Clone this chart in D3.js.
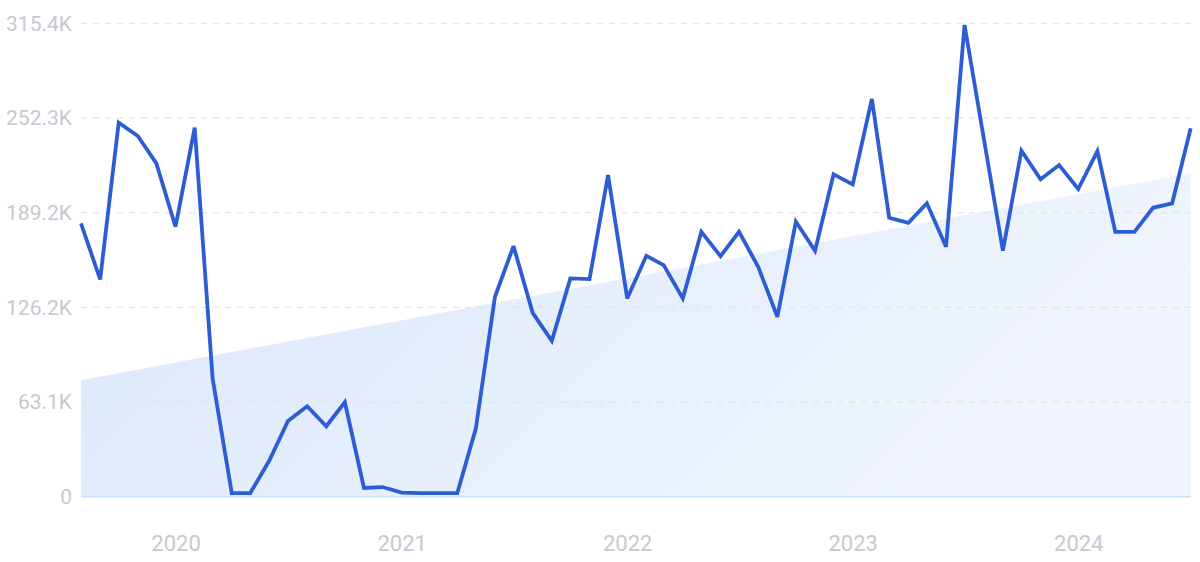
<!DOCTYPE html>
<html>
<head>
<meta charset="utf-8">
<script src="https://cdn.jsdelivr.net/npm/d3@7"></script>
<style>
  html, body { margin: 0; padding: 0; background: #ffffff; }
  svg { display: block; }
  text { font-family: Roboto, "Noto Sans", sans-serif; }
</style>
</head>
<body>
<svg id="chart" width="1200" height="562"></svg>
<script>
// ---- data ----
const startMonth = "2019-08";           // first monthly point
const values = [182.1, 144.8, 249.2, 240.3, 222.1, 179.9, 245.9, 78.8, 2.5, 2.5,
                24.3, 50.5, 60.3, 47, 63, 5.9, 6.5, 2.8, 2.5, 2.5,
                2.5, 45.5, 133.2, 167, 122.5, 103.9, 145.5, 145, 214.3, 132.1,
                160.5, 154.3, 132.1, 176.5, 160.3, 176.5, 153.2, 119.9, 183.2, 163.9,
                214.8, 208.1, 265, 185.9, 182.5, 195.5, 166.5, 314.3, 239, 163.9,
                230.5, 211.5, 221, 205, 230.3, 176.5, 176.5, 192.5, 195.5, 245.5]; // thousands
const trendValues = [77.7, 215.6];      // trend at first and last month (thousands)
const yTicks = [0, 63.1, 126.2, 189.2, 252.3, 315.4];
const yTickLabels = ["0", "63.1K", "126.2K", "189.2K", "252.3K", "315.4K"];
const xTickYears = [2020, 2021, 2022, 2023, 2024];

// ---- derived ----
const parse = d3.timeParse("%Y-%m");
const t0 = parse(startMonth);
const dates = values.map((v, i) => d3.timeMonth.offset(t0, i));
const series = values.map((v, i) => ({ date: dates[i], value: v }));
const trend = [
  { date: dates[0], value: trendValues[0] },
  { date: dates[dates.length - 1], value: trendValues[1] }
];

const svg = d3.select("#chart");
const x = d3.scaleTime().domain([dates[0], dates[dates.length - 1]]).range([81, 1190.7]);
const y = d3.scaleLinear().domain([0, 315.4]).range([496.8, 23.3]);

// gradient for trend area
const defs = svg.append("defs");
const grad = defs.append("linearGradient").attr("id", "trendGrad")
  .attr("x1", "0%").attr("y1", "0%").attr("x2", "100%").attr("y2", "30%");
grad.append("stop").attr("offset", "0%").attr("stop-color", "#dbe7fa");
grad.append("stop").attr("offset", "100%").attr("stop-color", "#f0f5fd");

// trend area
svg.append("path")
  .datum(trend)
  .attr("fill", "url(#trendGrad)")
  .attr("d", d3.area().x(d => x(d.date)).y0(y(0)).y1(d => y(d.value)));

// grid lines
const grid = svg.append("g");
grid.selectAll("line")
  .data(yTicks.filter(d => d > 0))
  .join("line")
  .attr("x1", x.range()[0]).attr("x2", x.range()[1])
  .attr("y1", d => y(d)).attr("y2", d => y(d))
  .attr("stroke", "#d9e1ee")
  .attr("stroke-width", 1)
  .attr("stroke-dasharray", "6,6");

// baseline
svg.append("line")
  .attr("x1", x.range()[0]).attr("x2", x.range()[1])
  .attr("y1", y(0)).attr("y2", y(0))
  .attr("stroke", "#cddff7").attr("stroke-width", 1.5);

// y axis labels
const yAxis = d3.axisLeft(y).tickValues(yTicks)
  .tickFormat((d, i) => yTickLabels[i]).tickSize(0).tickPadding(9);
const gy = svg.append("g").attr("transform", `translate(${x.range()[0]},0)`).call(yAxis);
gy.select(".domain").remove();
gy.selectAll("text")
  .attr("fill", "#c6c9d1")
  .style("font-size", "21px")
  .style("font-family", "Roboto, sans-serif");

// x axis labels
const xAxis = d3.axisBottom(x)
  .tickValues(xTickYears.map(yr => new Date(yr, 0, 1)))
  .tickFormat(d3.timeFormat("%Y")).tickSize(0).tickPadding(0);
const gx = svg.append("g").attr("transform", `translate(0,535)`).call(xAxis);
gx.select(".domain").remove();
gx.selectAll("text")
  .attr("fill", "#c6c9d1")
  .attr("dy", "0.71em")
  .style("font-size", "22px")
  .style("font-family", "Roboto, sans-serif");

// line
svg.append("path")
  .datum(series)
  .attr("fill", "none")
  .attr("stroke", "#2d5dd5")
  .attr("stroke-width", 3.8)
  .attr("stroke-linejoin", "miter")
  .attr("stroke-miterlimit", 3)
  .attr("d", d3.line().x(d => x(d.date)).y(d => y(d.value)));
</script>
</body>
</html>
